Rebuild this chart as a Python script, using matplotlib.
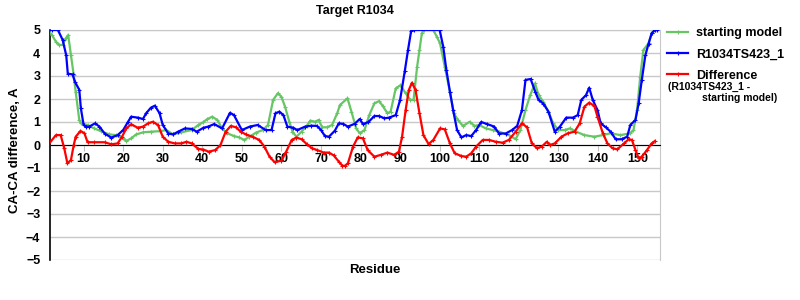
import matplotlib
matplotlib.use("Agg")
import matplotlib.pyplot as plt
import numpy as np

# values (residue, CA-CA difference in A)
start_res = [1, 2, 3, 3.8, 4.7, 5.5, 6.1, 6.8, 7.5, 8, 8.9, 9.3, 11, 12.7, 14.4, 16.5, 18.2,
             20, 20.8, 22, 23.3, 25, 27.1, 29.2, 30.9, 32.6, 34.7, 37.3, 39, 40.3, 41.2, 42.5,
             43.8, 45, 46.3, 48, 49.3, 50.6, 51.9, 53.6, 55.3, 56.6, 57.9, 59.1, 60, 60.9, 62,
             62.8, 63.8, 65.1, 66.4, 67.3, 68.5, 69.4, 70.3, 71.5, 72.8, 74.1, 74.8, 76.7, 77.7,
             78.9, 79.8, 81, 82.2, 83.5, 84.7, 85.6, 86.8, 87.6, 88.9, 90.1, 91.4, 92.6, 93.4,
             94.3, 94.9, 95.5, 96, 98.4, 99.3, 100.1, 101.3, 102.6, 103.6, 104.6, 105.9, 107.6,
             108.8, 110, 111.7, 113.4, 115, 117.5, 119.2, 120.4, 121.7, 122.9, 124.1, 125, 126.2,
             127.5, 128.7, 130, 131.6, 132.9, 134.5, 136.6, 139.1, 141.2, 143.2, 145.7, 148.2,
             149, 149.9, 150.7, 151.5, 152.8, 153.6, 154.4]
start_val = [5.0, 4.78, 4.49, 4.35, 4.35, 4.64, 4.78, 3.9, 3.04, 2.3, 1.09, 0.94, 0.87, 0.72,
             0.6, 0.46, 0.43, 0.29, 0.17, 0.29, 0.46, 0.55, 0.58, 0.6, 0.65, 0.46, 0.55, 0.65,
             0.87, 1.0, 1.12, 1.23, 1.09, 0.72, 0.51, 0.39, 0.33, 0.22, 0.36, 0.54, 0.65, 0.87,
             1.96, 2.25, 2.1, 1.67, 1.01, 0.58, 0.36, 0.58, 0.83, 1.06, 1.01, 1.09, 0.77, 0.77,
             0.87, 1.38, 1.74, 2.03, 1.45, 0.72, 0.51, 0.65, 1.3, 1.81, 1.91, 1.7, 1.38, 1.45,
             2.46, 2.6, 2.25, 1.96, 1.96, 3.4, 4.13, 4.86, 5.0, 5.0, 4.7, 4.42, 3.4, 2.3, 1.38,
             1.09, 0.83, 1.01, 0.83, 0.87, 0.72, 0.65, 0.58, 0.43, 0.25, 0.65, 1.52, 2.17, 2.68,
             2.17, 1.88, 1.45, 0.94, 0.65, 0.65, 0.72, 0.58, 0.43, 0.36, 0.43, 0.51, 0.43, 0.51,
             0.65, 1.52, 2.97, 4.13, 4.42, 4.86, 5.0]

model_res = [1, 2, 3.5, 4.7, 5.6, 6, 7.2, 7.8, 8.9, 9.3, 10, 10.6, 11.4, 12.9, 14, 15.3, 17,
             18.6, 20, 21.2, 22, 23.7, 25, 25.8, 27, 28, 29.2, 30, 31.4, 32.6, 33.9, 35.6, 37.3,
             38.6, 40.3, 41.5, 43, 45, 47, 48, 50, 52, 54, 56, 57.5, 58.5, 59.5, 60.5, 61.5, 63,
             64, 66, 67.5, 69, 70, 71, 72, 73.5, 74.5, 75.6, 76.8, 78.5, 79.8, 80.6, 82, 83.5,
             84.7, 86, 87.2, 88.9, 90, 91.2, 92, 92.8, 93.5, 100, 100.9, 101.7, 102.6, 103.4,
             104.4, 105.5, 106.7, 108, 109.2, 110.5, 112, 113.8, 115, 116.7, 118.3, 119.6, 120.8,
             121.7, 123, 124.2, 125, 126.2, 127.5, 129.1, 130.4, 132, 133.7, 134.9, 135.8, 137,
             137.8, 138.7, 139.9, 140.7, 142, 143.2, 144.5, 146, 147.4, 148.2, 149.5, 150.3,
             151.1, 152, 152.8, 153.6, 154.4, 155]
model_val = [5.0, 5.0, 5.0, 4.57, 3.9, 3.1, 3.07, 2.75, 2.4, 1.6, 0.87, 0.8, 0.8, 0.94, 0.8,
             0.5, 0.32, 0.43, 0.65, 1.0, 1.23, 1.19, 1.13, 1.38, 1.62, 1.71, 1.38, 0.87, 0.5,
             0.46, 0.58, 0.72, 0.7, 0.58, 0.75, 0.8, 0.91, 0.72, 1.4, 1.3, 0.65, 0.8, 0.87, 0.65,
             0.65, 1.38, 1.45, 1.3, 0.8, 0.75, 0.65, 0.8, 0.84, 0.83, 0.65, 0.39, 0.36, 0.62,
             0.94, 0.92, 0.8, 0.92, 1.13, 0.91, 1.0, 1.26, 1.26, 1.16, 1.19, 1.3, 1.96, 3.23,
             4.13, 4.97, 5.0, 5.0, 4.28, 3.26, 2.32, 1.52, 0.65, 0.33, 0.43, 0.39, 0.65, 1.0,
             0.91, 0.8, 0.5, 0.5, 0.65, 0.83, 1.52, 2.83, 2.87, 2.3, 1.96, 1.8, 1.45, 0.58, 0.8,
             1.19, 1.19, 1.3, 1.96, 2.17, 2.49, 1.96, 1.52, 0.94, 0.77, 0.58, 0.25, 0.25, 0.36,
             0.87, 1.09, 1.81, 2.83, 3.9, 4.4, 4.86, 5.0, 5.0]

diff_res = [1, 3, 4.2, 5.1, 5.9, 6.8, 7.5, 8, 9.2, 10.2, 11, 12.7, 15.3, 17, 18.6, 19.7, 20.8,
            22, 23.7, 25, 26.3, 27.5, 28.8, 30, 31.4, 33, 34.7, 36, 37.3, 39, 40.3, 41.6, 43.3,
            44.6, 45.9, 47.2, 48.5, 49.7, 51, 52.7, 54.4, 55.7, 57, 58.3, 60, 61.2, 62.6, 63.8,
            65.1, 66.4, 67.7, 69, 70.7, 72, 73.2, 74.5, 75.4, 76, 76.8, 78.1, 79.3, 80.6, 81.8,
            83.5, 85.1, 86.8, 88.5, 89.7, 90.5, 91.4, 92.2, 93, 93.9, 94.9, 95.9, 97.2, 98.4,
            100.1, 101.3, 102.6, 103.8, 105.5, 106.7, 108, 109.2, 110.9, 112.5, 114.2, 115.9,
            117.5, 119.2, 120.8, 122.1, 123.3, 124.6, 125.8, 127.1, 127.9, 129.1, 130.8, 132.4,
            134.1, 135.4, 136.6, 137.8, 139.1, 139.9, 141.2, 142.4, 143.7, 144.9, 146.6, 147.8,
            148.6, 149.5, 150.3, 151.1, 152.4, 153.6, 154.4]
diff_val = [0.0, 0.43, 0.43, -0.14, -0.8, -0.65, 0.0, 0.36, 0.61, 0.51, 0.12, 0.12, 0.12, 0.03,
            0.07, 0.36, 0.72, 0.9, 0.75, 0.8, 0.94, 1.01, 0.87, 0.36, 0.14, 0.07, 0.07, 0.14,
            0.07, -0.17, -0.2, -0.29, -0.22, 0.0, 0.58, 0.83, 0.77, 0.58, 0.46, 0.36, 0.22,
            -0.07, -0.51, -0.75, -0.68, -0.29, 0.22, 0.32, 0.25, 0.04, -0.14, -0.22, -0.33,
            -0.33, -0.45, -0.72, -0.9, -0.91, -0.8, -0.07, 0.33, 0.29, -0.22, -0.51, -0.43,
            -0.33, -0.43, -0.29, 0.36, 1.52, 2.39, 2.71, 2.39, 1.38, 0.43, 0.04, 0.22, 0.72,
            0.68, 0.07, -0.36, -0.48, -0.51, -0.36, -0.07, 0.22, 0.22, 0.14, 0.1, 0.22, 0.58,
            0.94, 0.77, 0.07, -0.14, -0.07, 0.14, 0.0, 0.07, 0.36, 0.51, 0.58, 0.94, 1.67, 1.84,
            1.7, 1.23, 0.54, 0.07, -0.14, -0.19, 0.07, 0.25, 0.22, -0.22, -0.58, -0.51, -0.22,
            0.07, 0.17]

x_ticks = list(range(10, 151, 10))
y_ticks = list(range(-5, 6))

plt.rcParams["font.family"] = ["Liberation Sans", "DejaVu Sans"]
plt.rcParams["font.weight"] = "bold"

fig = plt.figure(figsize=(8, 3), dpi=100)
ax = fig.add_axes([50 / 800, 40 / 300, 610 / 800, 230 / 300])

ax.plot(start_res, start_val, color="#66C666", lw=1.6, marker="+", ms=3, mew=0.8,
        label="starting model", zorder=3)
ax.plot(model_res, model_val, color="#0000FF", lw=1.6, marker="+", ms=3, mew=0.8,
        label="R1034TS423_1", zorder=4)
ax.plot(diff_res, diff_val, color="#FF0000", lw=1.6, marker="+", ms=3, mew=0.8,
        label="Difference", zorder=5)

ax.set_xlim(1.5, 155.7)
ax.set_ylim(-5, 5)
ax.set_xticks(x_ticks)
ax.set_yticks(y_ticks)
ax.set_yticklabels([f"{v}".replace("-", "\u2212") for v in y_ticks])
ax.grid(axis="y", color="#C8C8C8", lw=1)
ax.set_axisbelow(True)

ax.spines["bottom"].set_position(("data", 0))
ax.spines["bottom"].set_color("black")
ax.spines["bottom"].set_zorder(2.6)
ax.spines["left"].set_color("black")
ax.spines["left"].set_linewidth(1.2)
ax.spines["top"].set_color("#C8C8C8")
ax.spines["right"].set_color("#C8C8C8")
ax.tick_params(axis="x", length=4, color="#C0C0C0", pad=2, labelsize=9)
ax.tick_params(axis="y", length=0, pad=7, labelsize=9)
for lab in ax.get_xticklabels() + ax.get_yticklabels():
    lab.set_fontweight("bold")

fig.text(355 / 800, 1 - 11 / 300, "Target R1034", ha="center", va="center",
         fontsize=9, fontweight="bold")
fig.text(375 / 800, 1 - 270 / 300, "Residue", ha="center", va="center",
         fontsize=9.5, fontweight="bold")
fig.text(15 / 800, 1 - 150 / 300, "CA-CA difference, A", ha="center", va="center",
         rotation=90, fontsize=9.5, fontweight="bold")

fig.legend(loc="upper left", bbox_to_anchor=(667 / 800, 1 - 27 / 300), frameon=False,
           fontsize=9, handlelength=1.7, handletextpad=0.6, labelspacing=0.75,
           borderaxespad=0, borderpad=0)
fig.text(668 / 800, 1 - 87 / 300, "(R1034TS423_1 -", ha="left", va="center",
         fontsize=7.5, fontweight="bold")
fig.text(702 / 800, 1 - 98 / 300, "starting model)", ha="left", va="center",
         fontsize=7.5, fontweight="bold")

fig.savefig("out.png", dpi=100)
